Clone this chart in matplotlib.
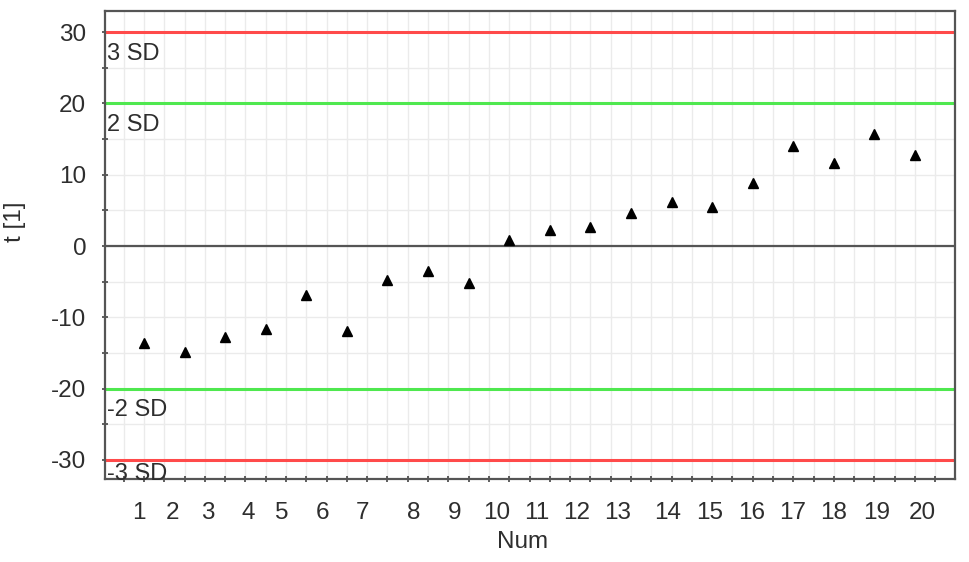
"""
Score plot of t[1] per observation with SD limit lines.
"""

import matplotlib.pyplot as plt
import numpy as np

plt.rcParams["font.family"] = ["Liberation Sans", "DejaVu Sans"]
plt.rcParams["axes.unicode_minus"] = False

# observation number and t[1] score
obs_num = list(range(1, 21))
t_scores = [-13.6, -14.9, -12.7, -11.7, -6.9, -11.9, -4.7, -3.5, -5.2, 0.9,
            2.2, 2.6, 4.6, 6.2, 5.5, 8.9, 14.0, 11.6, 15.7, 12.7]

# limit lines
sd_levels = [30, 20, -20, -30]
sd_labels = ["3 SD", "2 SD", "-2 SD", "-3 SD"]
sd_colors = ["#ff4a4a", "#4fe84f", "#4fe84f", "#ff4a4a"]

# x tick labels (the original software places them a bit off the points)
x_labels = [str(n) for n in obs_num]
x_label_pos = [0.88, 1.69, 2.58, 3.56, 4.40, 5.41, 6.39, 7.65, 8.66, 9.69,
               10.68, 11.66, 12.67, 13.90, 14.94, 15.97, 16.98, 17.99, 19.05, 20.18]

y_ticks = [-30, -20, -10, 0, 10, 20, 30]

text_color = "#2e2e2e"


def main() -> None:
    fig = plt.figure(figsize=(9.69, 5.62), dpi=100)
    ax = fig.add_axes([0.1084, 0.1477, 0.8772, 0.8327])

    ax.set_xlim(0.04, 20.985)
    ax.set_ylim(-32.68, 32.96)

    # light grid every half observation and every 5 units
    ax.set_xticks(np.arange(0.5, 21, 0.5), minor=True)
    ax.set_yticks(np.arange(-30, 31, 5), minor=True)
    ax.grid(True, which="minor", color="#ebebeb", linewidth=1)
    ax.grid(True, which="major", axis="y", color="#ebebeb", linewidth=1)
    ax.set_axisbelow(True)

    ax.set_xticks(x_label_pos)
    ax.set_xticklabels(x_labels)
    ax.set_yticks(y_ticks)

    ax.tick_params(axis="x", which="major", length=0, pad=16.5,
                   labelsize=17.5, labelcolor=text_color)
    ax.tick_params(axis="x", which="minor", direction="inout", length=5,
                   width=1.2, color="#444444")
    ax.tick_params(axis="y", which="both", direction="inout", length=5,
                   width=1.2, color="#444444", pad=11,
                   labelsize=17.5, labelcolor=text_color)

    for spine in ax.spines.values():
        spine.set_color("#555555")
        spine.set_linewidth(1.6)

    # zero line and SD limits
    ax.axhline(0, color="#555555", linewidth=1.6, zorder=2)
    label_offsets = [-7.5, -7.5, -7.5, -2.5]
    for level, label, color, off in zip(sd_levels, sd_labels, sd_colors, label_offsets):
        ax.axhline(level, color=color, linewidth=2.2, zorder=2)
        ax.annotate(label, xy=(0.0, level), xycoords=("axes fraction", "data"),
                    xytext=(1.5, off), textcoords="offset points",
                    ha="left", va="top", fontsize=17, color=text_color)

    ax.plot(obs_num, t_scores, linestyle="none", marker="^", markersize=6.5,
            color="black", zorder=3)

    ax.set_xlabel("Num", fontsize=17.5, color=text_color)
    ax.set_ylabel("t [1]", fontsize=17.5, color=text_color)
    ax.xaxis.set_label_coords(0.4915, -0.112)
    ax.yaxis.set_label_coords(-0.093, 0.55)

    fig.savefig("out.png", dpi=100)
    plt.close(fig)


if __name__ == "__main__":
    main()
